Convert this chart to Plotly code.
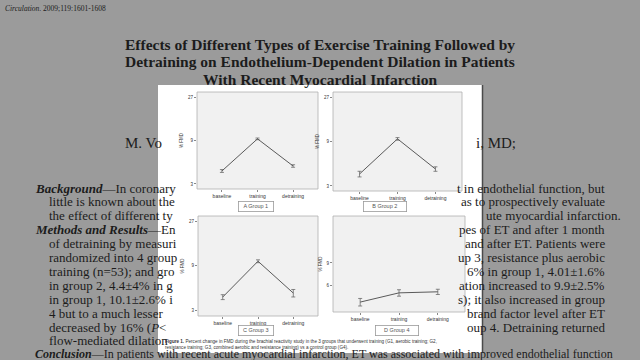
import plotly.graph_objects as go

W, H = 640, 360

# ---- data ----
phases = ["baseline", "training", "detraining"]
g1 = [4.17, 9.4, 4.73]
g1_err = [0.15, 0.2, 0.15]
g2 = [4.03, 9.6, 4.56]
g2_err = [0.28, 0.3, 0.25]
g3 = [4.13, 10.0, 4.56]
g3_err = [0.25, 0.35, 0.42]
g4 = [4.5, 5.3, 5.4]
g4_err = [0.3, 0.3, 0.25]
group_labels = ["A Group 1", "B Group 2", "C Group 3", "D Group 4"]
yticks_main = [3, 9, 27]
yticks_d = [6, 9]


def px(x):
    return x / W


def py(y):
    return 1 - y / H


# subplot boxes in pixels (x0, x1, y0, y1)
boxes = [(197, 318, 92, 189), (333, 462, 92, 191), (198, 318, 216, 316), (333, 465, 216, 312)]
series = [(g1, g1_err), (g2, g2_err), (g3, g3_err), (g4, g4_err)]
yranges = [[0.422, 1.488], [0.423, 1.485], [0.413, 1.485], [0.577, 1.316]]

fig = go.Figure()
layout = {}
for i, ((x0, x1, y0, y1), (vals, errs)) in enumerate(zip(boxes, series)):
    n = "" if i == 0 else str(i + 1)
    fig.add_trace(go.Scatter(
        x=phases, y=vals, mode="lines",
        line=dict(color="#5a5a5a", width=1),
        error_y=dict(type="data", array=errs, color="#6a6a6a", thickness=0.8, width=2),
        xaxis="x" + n, yaxis="y" + n, showlegend=False, hoverinfo="skip",
    ))
    tv = yticks_d if i == 3 else yticks_main
    layout["xaxis" + n] = dict(
        domain=[px(x0), px(x1)], anchor="y" + n, range=[-0.7, 2.7],
        showgrid=False, zeroline=False, showline=False,
        ticks="outside", ticklen=2, tickcolor="#888", tickwidth=0.6,
        tickfont=dict(size=5, color="#333", family="Liberation Sans"),
        fixedrange=True,
    )
    layout["yaxis" + n] = dict(
        domain=[py(y1), py(y0)], anchor="x" + n, type="log", range=yranges[i],
        tickvals=tv, ticktext=[str(t) for t in tv],
        showgrid=False, zeroline=False, showline=False,
        ticks="outside", ticklen=2, tickcolor="#888", tickwidth=0.6,
        tickfont=dict(size=4.5, color="#333", family="Liberation Sans"),
        title=dict(text="% FMD", font=dict(size=4.5, color="#333", family="Liberation Sans"), standoff=4),
        fixedrange=True,
    )

shapes = [
    # white figure panel
    dict(type="rect", xref="paper", yref="paper", x0=px(158), x1=px(482), y0=py(353), y1=py(85),
         fillcolor="white", line=dict(width=0), layer="below"),
    dict(type="line", xref="paper", yref="paper", x0=px(482.5), x1=px(482.5), y0=py(353), y1=py(85),
         line=dict(color="#4a4a4a", width=1.5), layer="below"),
]
for (x0, x1, y0, y1) in boxes:
    shapes.append(dict(type="rect", xref="paper", yref="paper", x0=px(x0), x1=px(x1), y0=py(y1), y1=py(y0),
                       fillcolor="#f1f1f1", line=dict(color="#b0b0b0", width=0.8), layer="below"))

annotations = []


def ann(text, x, y, size, xanchor="left", color="#1c1c1c", family="Liberation Serif", **kw):
    annotations.append(dict(text=text, x=px(x), y=py(y), xref="paper", yref="paper",
                            xanchor=xanchor, yanchor="middle", showarrow=False,
                            font=dict(size=size, color=color, family=family), **kw))


# header and title
ann("<i>Circulation</i>. 2009;119:1601-1608", 3, 8, 7.5)
title_lines = ["Effects of Different Types of Exercise Training Followed by",
               "Detraining on Endothelium-Dependent Dilation in Patients",
               "With Recent Myocardial Infarction"]
for k, t in enumerate(title_lines):
    ann("<b>" + t + "</b>", 320, 44 + 17.5 * k, 15.5, xanchor="center")

ann("M. Vo", 123, 143, 15)
ann("i, MD;", 518, 143, 15, xanchor="right")

left_lines = [
    (33, "<b><i>Background</i></b>—In coronary"),
    (47, "little is known about the"),
    (47, "the effect of different ty"),
    (33, "<b><i>Methods and Results</i></b>—En"),
    (47, "of detraining by measuri"),
    (47, "randomized into 4 group"),
    (47, "training (n=53); and gro"),
    (47, "in group 2, 4.4±4% in g"),
    (47, "in group 1, 10.1±2.6% i"),
    (47, "4 but to a much lesser"),
    (47, "decreased by 16% (<i>P</i>&lt;"),
    (47, "flow-mediated dilation"),
]
right_lines = [
    "t in endothelial function, but",
    "as to prospectively evaluate",
    None,
    "pes of ET and after 1 month",
    "and after ET. Patients were",
    "up 3, resistance plus aerobic",
    "6% in group 1, 4.01±1.6%",
    "ation increased to 9.9±2.5%",
    "s); it also increased in group",
    "brand factor level after ET",
    "oup 4. Detraining returned",
    None,
]
for k, (lx, t) in enumerate(left_lines):
    yy = 188 + 13.9 * k
    ann(t, lx, yy, 13)
    if right_lines[k]:
        ann(right_lines[k], 607, yy, 13, xanchor="right")
ann("ute myocardial infarction.", 484, 188 + 13.9 * 2, 13)
ann("<b><i>Conclusion</i></b>—In patients with recent acute myocardial infarction, ET was associated with improved endothelial function",
    33, 353.5, 12)

# figure panel labels
label_pos = [(256, 206.5, 34), (385, 206, 42), (256, 330, 34), (397, 330, 42)]
for lab, (cx, cy, w) in zip(group_labels, label_pos):
    annotations.append(dict(text=lab, x=px(cx), y=py(cy), xref="paper", yref="paper",
                            xanchor="center", yanchor="middle", showarrow=False,
                            width=w, height=9, bgcolor="white", bordercolor="#9a9a9a",
                            borderwidth=0.8, borderpad=0,
                            font=dict(size=5.5, color="#555", family="Liberation Sans")))

ann("<b>Figure 1.</b> Percent change in FMD during the brachial reactivity study in the 3 groups that underwent training (G1, aerobic training; G2,",
    163, 341, 4.6, color="#333", family="Liberation Sans")
ann("resistance training; G3, combined aerobic and resistance training) vs a control group (G4).",
    163, 347, 4.6, color="#333", family="Liberation Sans")

fig.update_layout(
    width=W, height=H, margin=dict(l=0, r=0, t=0, b=0),
    paper_bgcolor="#9b9b9b", plot_bgcolor="rgba(0,0,0,0)",
    shapes=shapes, annotations=annotations, showlegend=False,
    **layout,
)
fig.write_html("out.html", config={"displayModeBar": False},
               post_script="document.body.style.margin='0';document.body.style.overflow='hidden';")
